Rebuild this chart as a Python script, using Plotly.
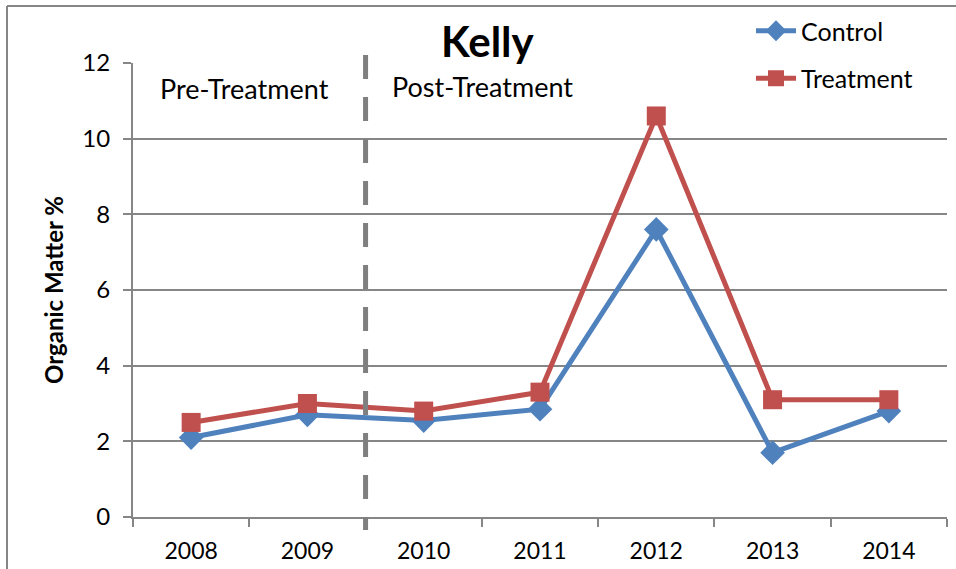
import plotly.graph_objects as go

years = ["2008", "2009", "2010", "2011", "2012", "2013", "2014"]
control = [2.1, 2.7, 2.55, 2.85, 7.6, 1.7, 2.8]
treatment = [2.5, 3.0, 2.8, 3.3, 10.6, 3.1, 3.1]
y_ticks = [0, 2, 4, 6, 8, 10, 12]

BLUE = "#4F81BD"
RED = "#C0504D"
GRID = "#868686"
FONT = "Lato"

W, H = 956, 569
ML, MR, MT, MB = 133, 9, 63, 52
PW = W - ML - MR
PH = H - MT - MB

def px_x(p):
    return (p - ML) / PW

def px_y(p):
    return (H - MB - p) / PH

fig = go.Figure()
fig.add_trace(go.Scatter(
    x=years, y=control, name="Control", mode="lines+markers",
    line=dict(color=BLUE, width=5),
    marker=dict(symbol="diamond", size=19, color=BLUE),
    legendgroup="a",
))
fig.add_trace(go.Scatter(
    x=years, y=treatment, name="Treatment", mode="lines+markers",
    line=dict(color=RED, width=5),
    marker=dict(symbol="square", size=19, color=RED),
    legendgroup="b",
))

shapes = [
    dict(type="line", xref="x", yref="paper", x0=1.5, x1=1.5,
         y0=px_y(55), y1=px_y(530),
         line=dict(color="#7F7F7F", width=5, dash="24px,18px")),
    dict(type="line", xref="paper", yref="paper", x0=px_x(7), x1=px_x(7),
         y0=px_y(6), y1=px_y(575), line=dict(color=GRID, width=2)),
    dict(type="line", xref="paper", yref="paper", x0=px_x(7), x1=px_x(960),
         y0=px_y(6), y1=px_y(6), line=dict(color=GRID, width=2)),
]

annotations = [
    dict(text="Pre-Treatment", xref="paper", yref="paper", x=px_x(244), y=px_y(88),
         showarrow=False, font=dict(family=FONT, size=27, color="black"),
         xanchor="center", yanchor="middle"),
    dict(text="Post-Treatment", xref="paper", yref="paper", x=px_x(482), y=px_y(87),
         showarrow=False, font=dict(family=FONT, size=27, color="black"),
         xanchor="center", yanchor="middle"),
    dict(text="<b>Kelly</b>", xref="paper", yref="paper", x=px_x(488), y=px_y(41),
         showarrow=False, font=dict(family=FONT, size=42, color="black"),
         xanchor="center", yanchor="middle"),
]

fig.update_layout(
    width=W, height=H,
    margin=dict(l=ML, r=MR, t=MT, b=MB, autoexpand=False),
    paper_bgcolor="white", plot_bgcolor="white",
    font=dict(family=FONT, color="black"),
    showlegend=True,
    legend=dict(x=px_x(751), y=px_y(8), xanchor="left", yanchor="top",
                font=dict(family=FONT, size=25, color="black"),
                bgcolor="rgba(0,0,0,0)", traceorder="grouped",
                tracegroupgap=12, itemwidth=40),
    shapes=shapes,
    annotations=annotations,
    xaxis=dict(
        type="category", showgrid=False, showline=True, linecolor=GRID, linewidth=2,
        ticks="outside", tickson="boundaries", ticklen=8, tickcolor=GRID, tickwidth=2,
        tickfont=dict(family=FONT, size=23, color="black"),
        range=[-0.5, 6.5], ticklabelstandoff=12,
    ),
    yaxis=dict(
        range=[0, 12], tickvals=y_ticks, showgrid=True, gridcolor=GRID, gridwidth=1.5,
        showline=True, linecolor=GRID, linewidth=2, zeroline=False,
        ticks="outside", ticklen=8, tickcolor=GRID, tickwidth=2,
        tickfont=dict(family=FONT, size=24, color="black"),
        ticklabelstandoff=8,
        title=dict(text="<b>Organic Matter %</b>", font=dict(family=FONT, size=24, color="black"),
                   standoff=12),
    ),
)

fig.write_html("out.html", post_script="document.body.style.margin='0';",
               config={"displayModeBar": False})
